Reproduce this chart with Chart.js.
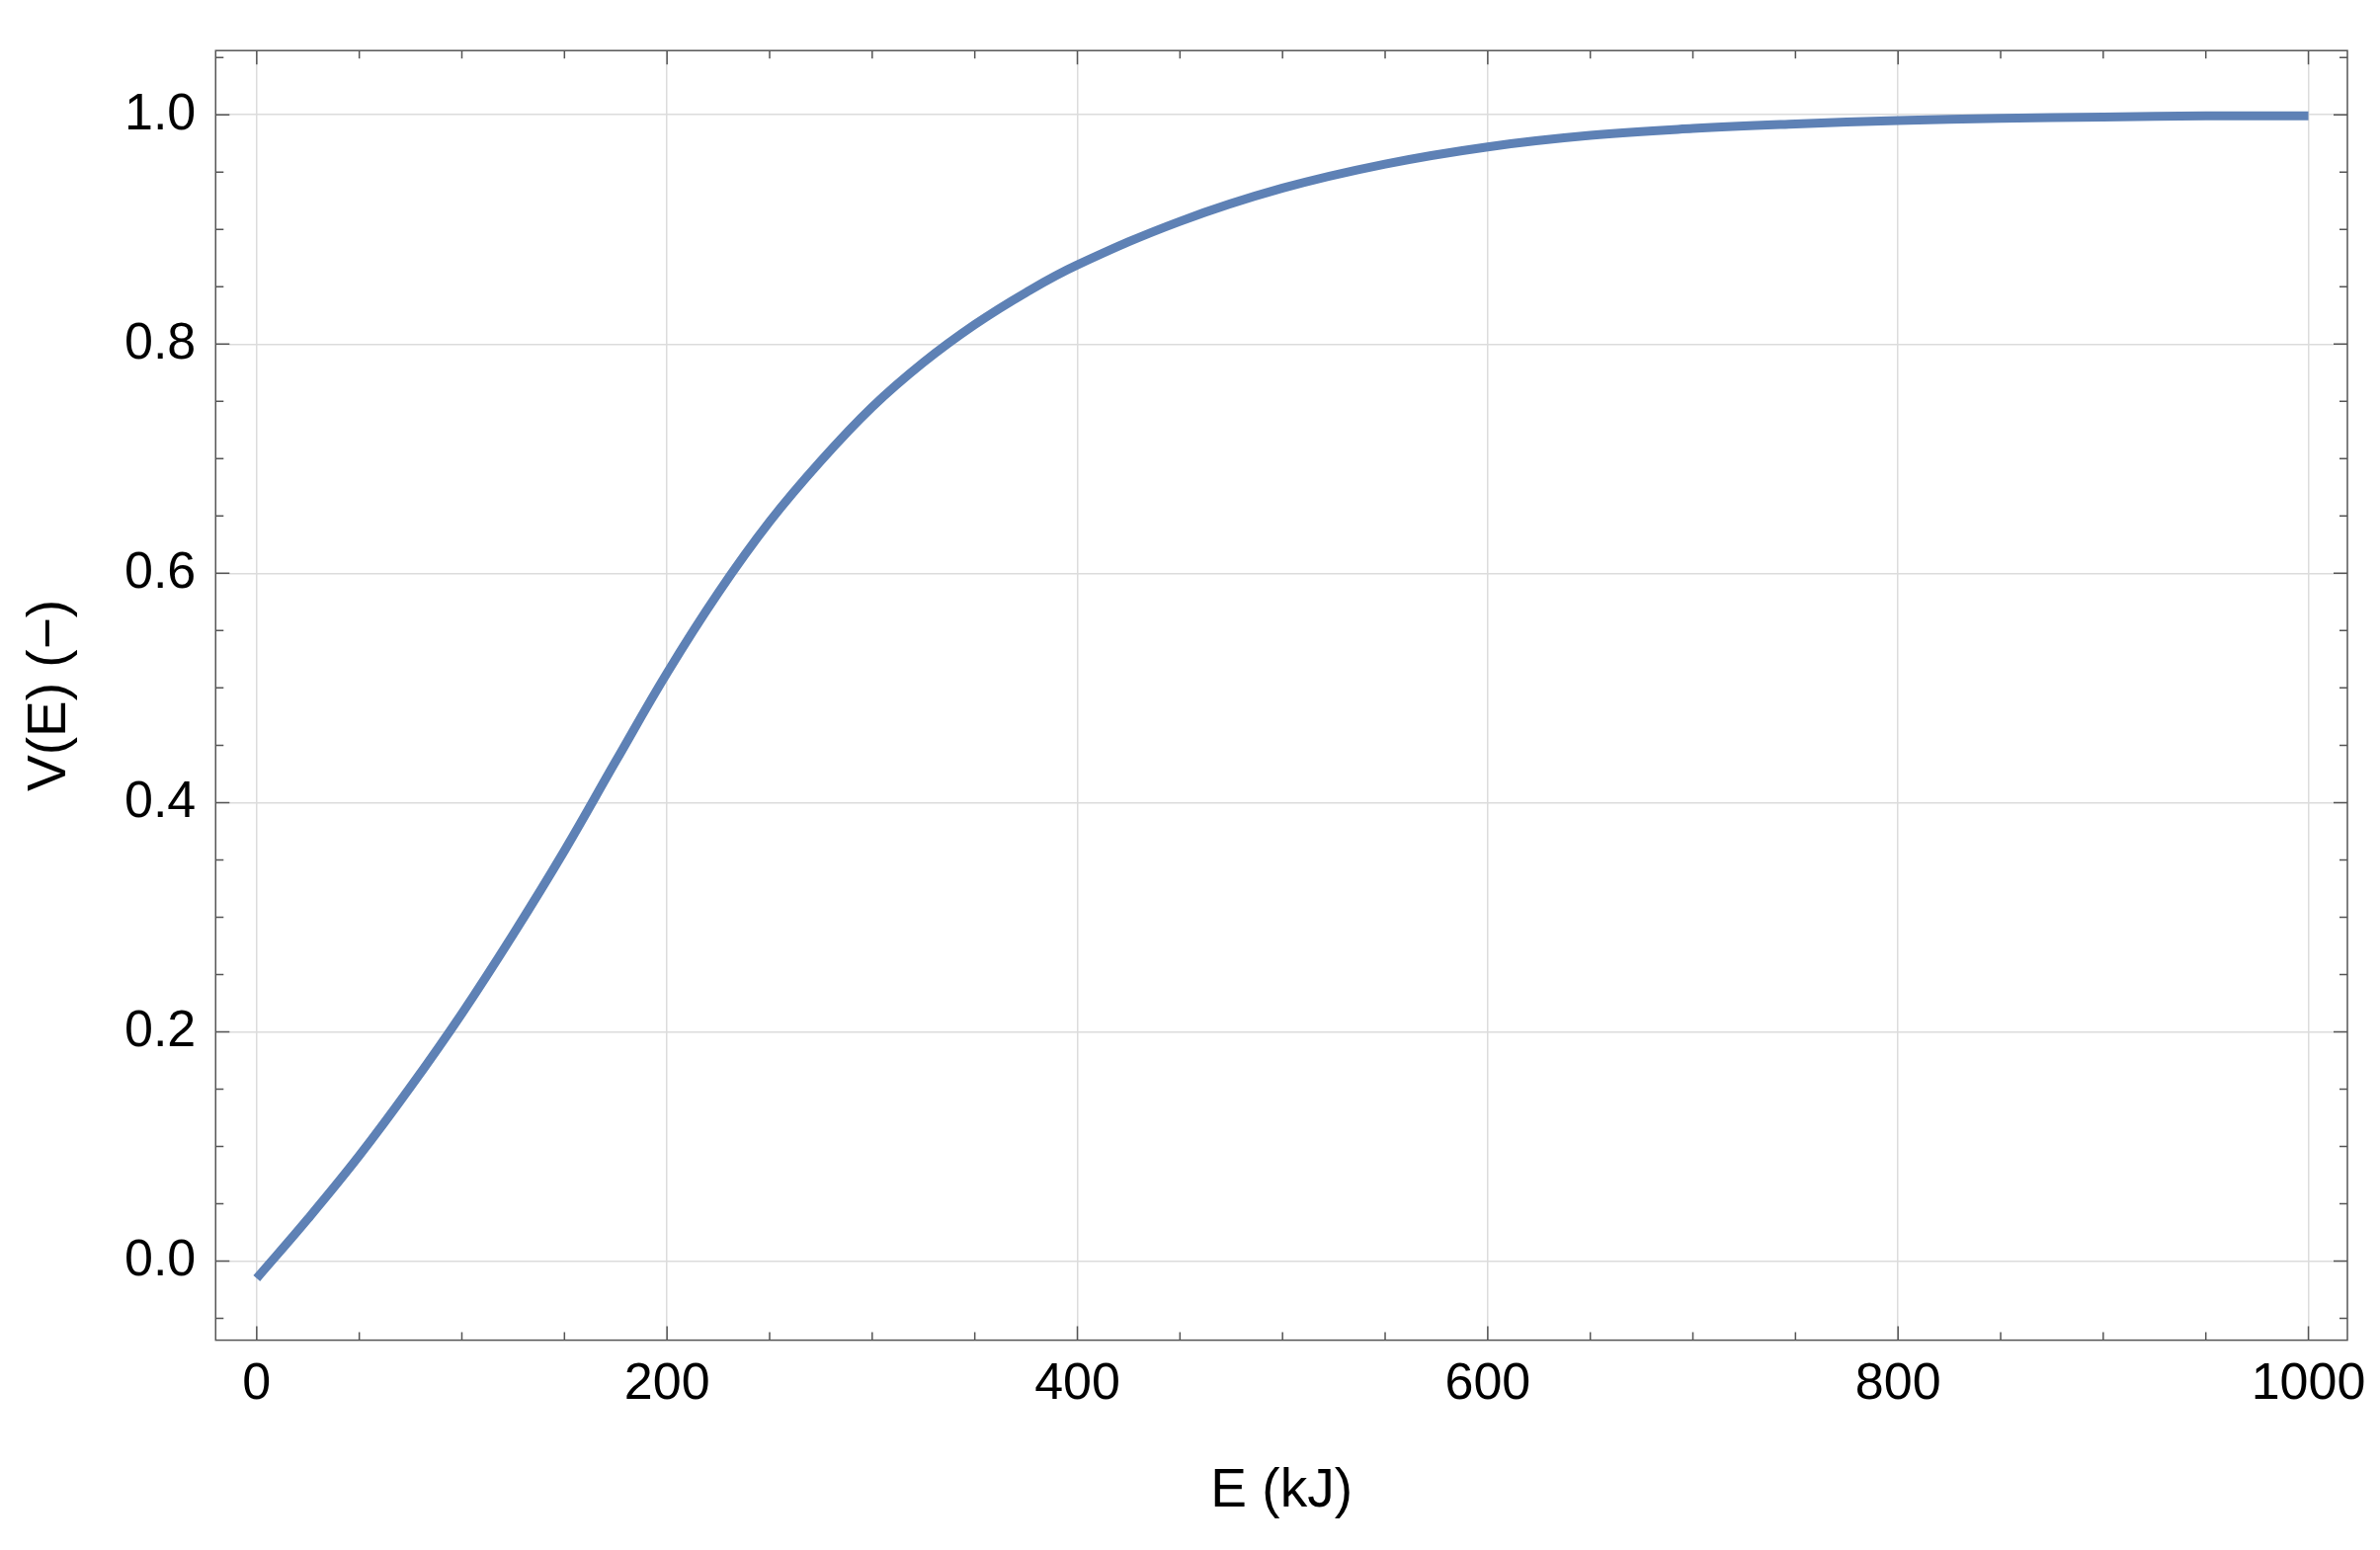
<!DOCTYPE html>
<html><head><meta charset="utf-8">
<script src="https://cdn.jsdelivr.net/npm/chart.js@4"></script>
<style>html,body{margin:0;padding:0;background:#fff}#wrap{width:2409px;height:1569px}</style>
</head><body><div id="wrap"><canvas id="c"></canvas></div>
<script>
const energies = [0,25,50,75,100,125,150,175,200,225,250,275,300,325,350,375,400,450,500,550,600,650,700,750,800,850,900,950,1000];
const vValues = [-0.015,0.037,0.092,0.152,0.216,0.285,0.358,0.436,0.513,0.583,0.645,0.698,0.745,0.784,0.817,0.845,0.869,0.907,0.936,0.957,0.972,0.982,0.988,0.992,0.995,0.997,0.998,0.999,0.999];
const xTicks = [0,200,400,600,800,1000];
const yTicks = [0.0,0.2,0.4,0.6,0.8,1.0];

const frameTicks = {
  id:'frameTicks',
  afterDatasetsDraw(chart){
    const {ctx, chartArea:a, scales:{x,y}} = chart;
    ctx.save();
    ctx.strokeStyle='#555'; ctx.lineWidth=1.5;
    ctx.strokeRect(a.left,a.top,a.right-a.left,a.bottom-a.top);
    ctx.beginPath();
    for(let v=0; v<=1000; v+=50){
      const p=x.getPixelForValue(v); const L = v%200===0?14:8;
      ctx.moveTo(p,a.bottom); ctx.lineTo(p,a.bottom-L);
      ctx.moveTo(p,a.top); ctx.lineTo(p,a.top+L);
    }
    for(let i=-1;i<=21;i++){
      const v=i*0.05; if(v<y.min||v>y.max) continue;
      const p=y.getPixelForValue(v); const L = i%4===0?14:8;
      ctx.moveTo(a.left,p); ctx.lineTo(a.left+L,p);
      ctx.moveTo(a.right,p); ctx.lineTo(a.right-L,p);
    }
    ctx.stroke(); ctx.restore();
  }
};

new Chart(document.getElementById('c'),{
  type:'line',
  data:{datasets:[{data:energies.map((e,i)=>({x:e,y:vValues[i]})),borderColor:'#5E81B5',borderWidth:9,pointRadius:0,tension:0.4,fill:false}]},
  options:{
    responsive:true,maintainAspectRatio:false,animation:false,
    layout:{padding:{left:14,right:33,top:0,bottom:22}},
    plugins:{legend:{display:false},tooltip:{enabled:false}},
    scales:{
      x:{type:'linear',min:-20,max:1019,
        afterBuildTicks(s){s.ticks=xTicks.map(v=>({value:v}));},
        grid:{color:'#dcdcdc',lineWidth:1.5,drawTicks:false},border:{display:false},
        ticks:{color:'#000',font:{family:'Liberation Sans',size:52},padding:14,maxRotation:0,callback:v=>String(v)},
        title:{display:true,text:'E (kJ)',color:'#000',font:{family:'Liberation Sans',size:55},padding:{top:30}}},
      y:{type:'linear',min:-0.069,max:1.056,
        afterBuildTicks(s){s.ticks=yTicks.map(v=>({value:v}));},
        grid:{color:'#dcdcdc',lineWidth:1.5,drawTicks:false},border:{display:false},
        ticks:{color:'#000',font:{family:'Liberation Sans',size:52},padding:20,callback:v=>v.toFixed(1)},
        title:{display:true,text:'V(E) (\u2212)',color:'#000',font:{family:'Liberation Sans',size:55},padding:{bottom:22}}}
    }
  },
  plugins:[frameTicks]
});
</script></body></html>
